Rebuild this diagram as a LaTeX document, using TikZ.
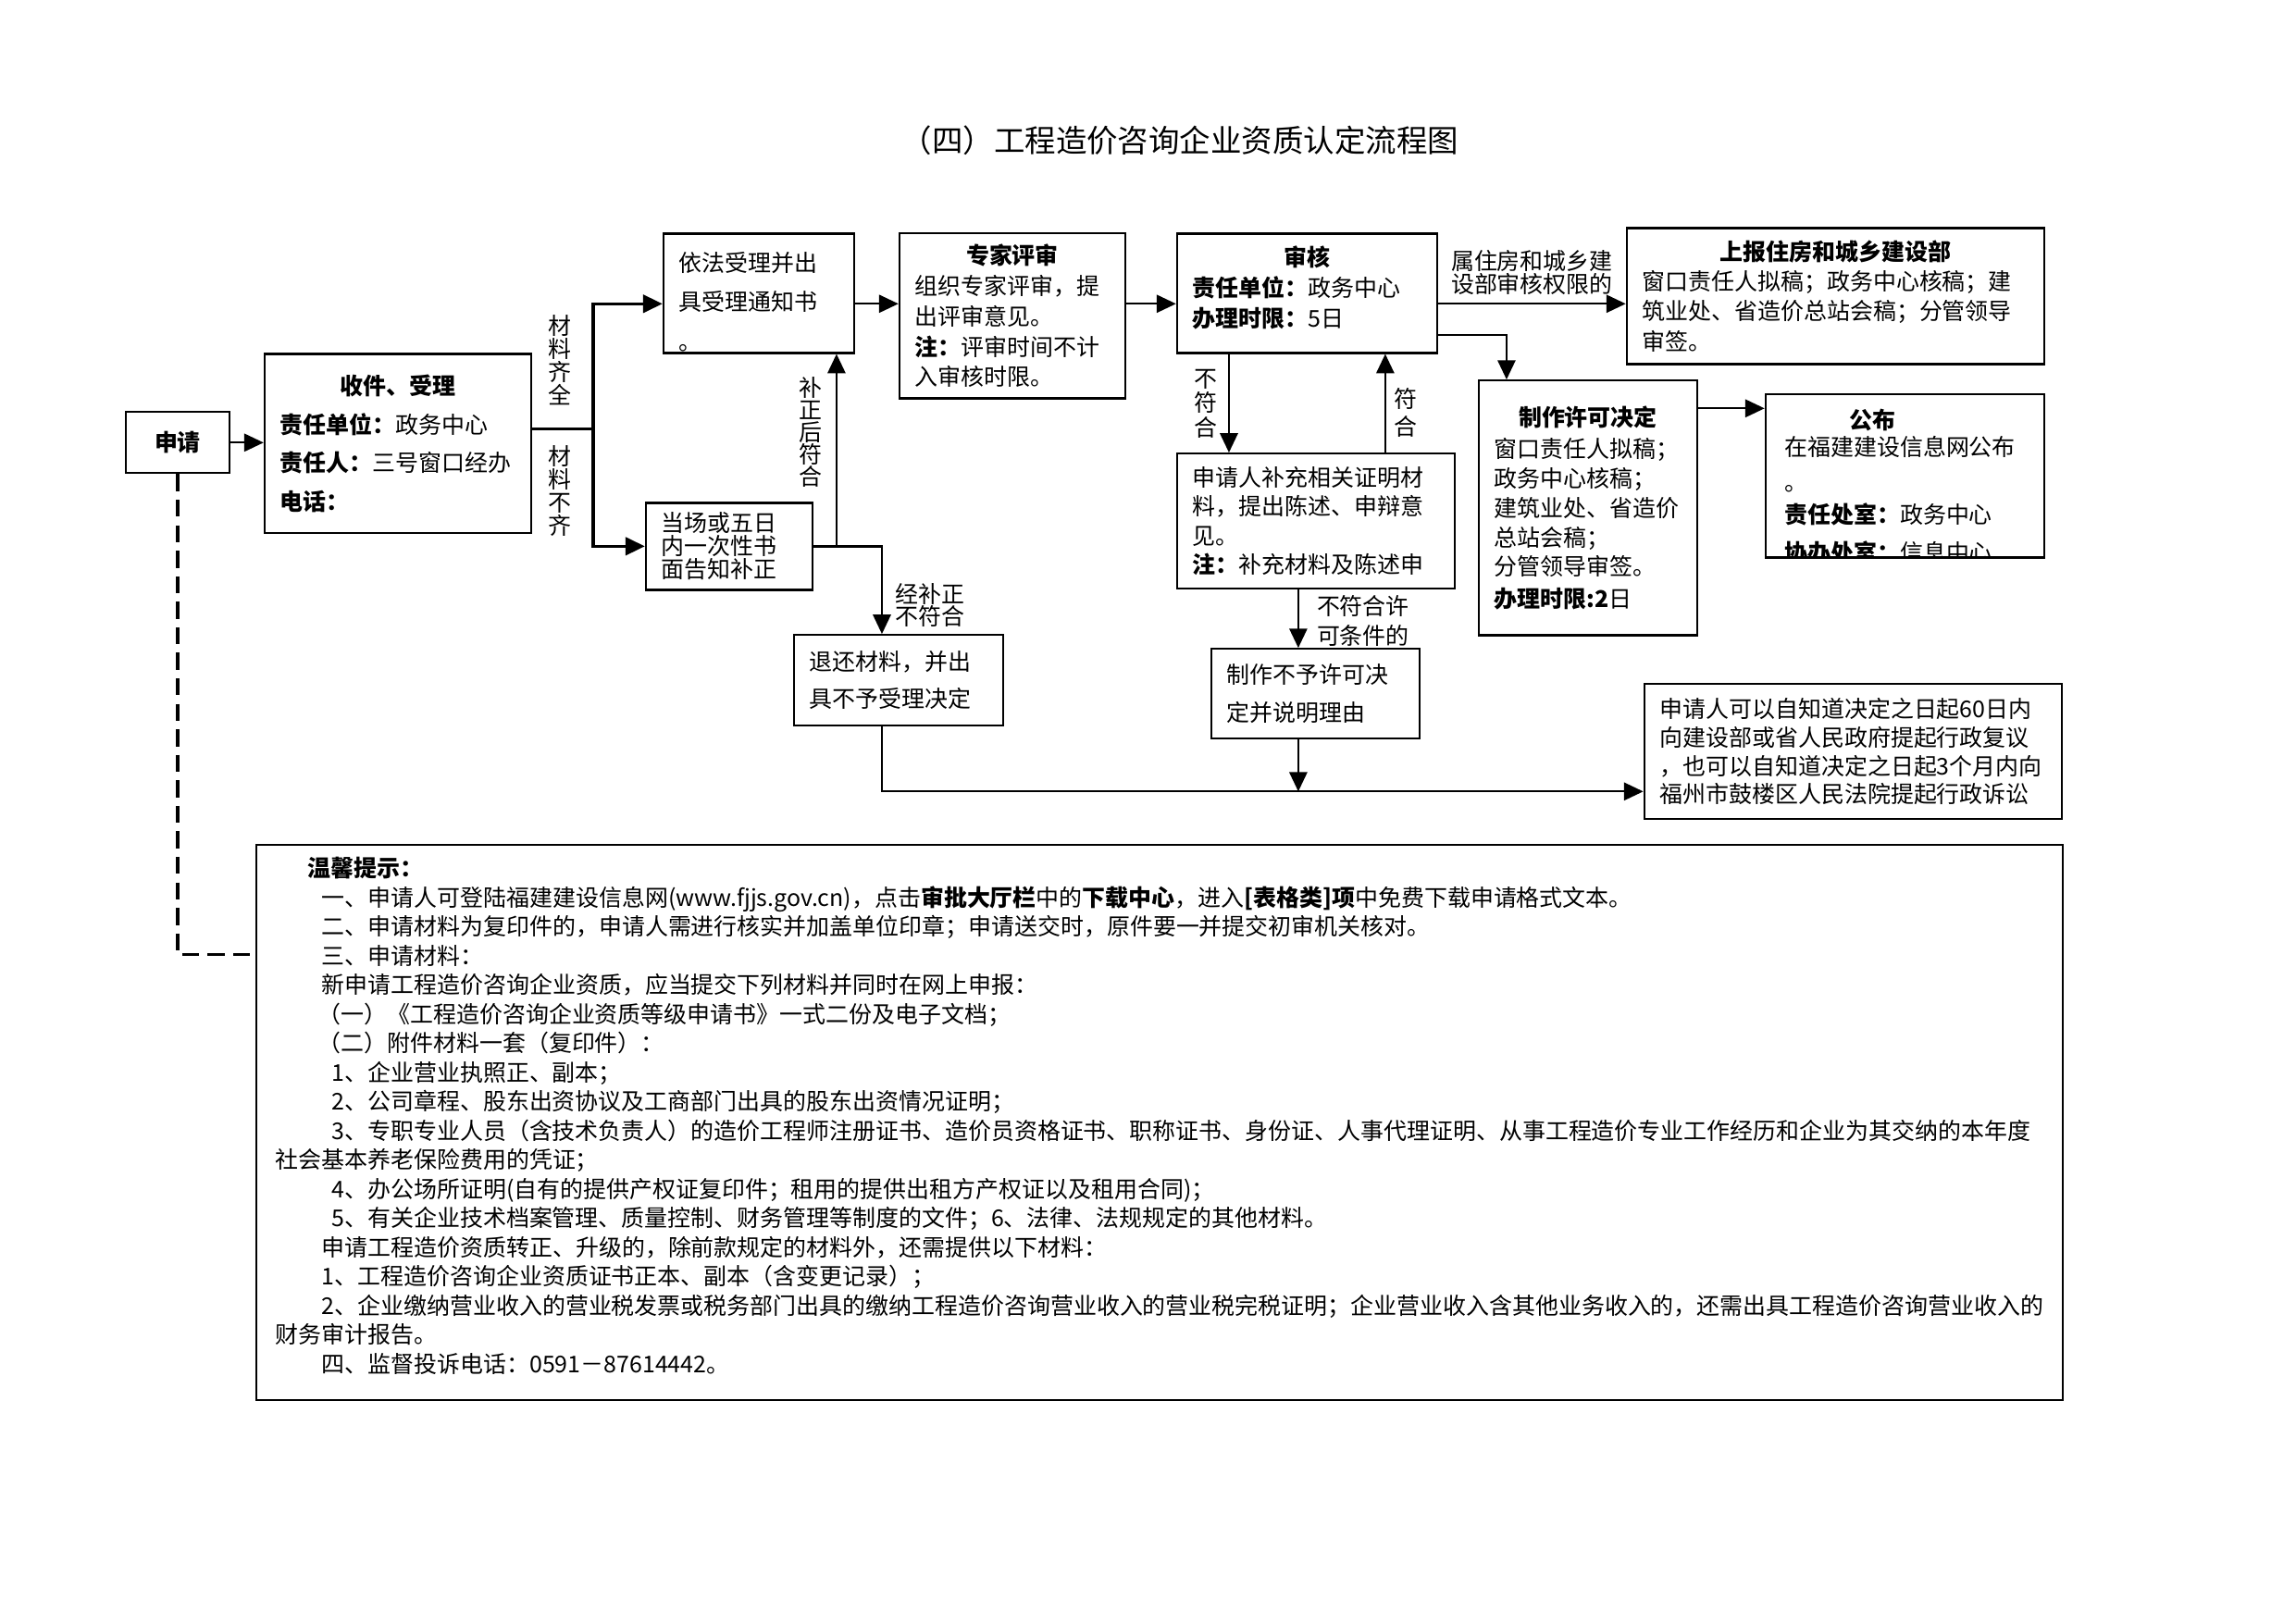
\documentclass[tikz,border=0pt]{standalone}
\usepackage{fontspec}
\setmainfont{Noto Sans CJK SC}
\usetikzlibrary{arrows.meta}
\newcommand{\fsz}[1]{\fontsize{8.5pt}{#1}\selectfont}

\begin{document}
\begin{tikzpicture}[
  font=\fsz{10.7pt},
  bx/.style  ={draw, line width=0.8pt, inner sep=0pt, align=left},
  ar/.style  ={-{Triangle[length=2.5mm,width=2.3mm]}, line width=0.8pt},
  arb/.style ={ar, line width=1.2pt},
  dsh/.style ={line width=1.2pt, dash pattern=on 2.2mm off 1.1mm},
  vlbl/.style={align=center, inner sep=0pt},
  lbl/.style ={align=left, inner sep=0pt},
]
\useasboundingbox (0,0) rectangle (29.7,21.0);

% ---- title ----
\node[inner sep=0pt, font=\fontsize{11.4pt}{12pt}\selectfont] (title) at (15.262,19.188)
  {（四）工程造价咨询企业资质认定流程图};

% ---- left part ----
\node[bx, align=center, minimum width=1.341cm, minimum height=0.790cm] (apply) at (2.298,15.274)
  {\textbf{申请}};
\node[bx, minimum width=3.447cm, minimum height=2.322cm, text width=3.05cm, font=\fsz{14.2pt}]
  (recv) at (5.147,15.262)
  {\hfill\textbf{收件、受理}\hfill\null\\ \textbf{责任单位：}政务中心\\ \textbf{责任人：}三号窗口经办\\ \textbf{电话：}};
\node[bx, minimum width=2.466cm, minimum height=1.544cm, text width=2.07cm, text height=13.5pt,
  font=\fsz{14.5pt}] (acc) at (9.816,17.207) {依法受理并出\\ 具受理通知书\\ 。};
\node[bx, minimum width=2.155cm, minimum height=1.125cm, text width=1.75cm, font=\fsz{8.6pt}]
  (fix) at (9.433,13.933) {当场或五日\\ 内一次性书\\ 面告知补正};
\node[bx, minimum width=2.705cm, minimum height=1.173cm, text width=2.30cm, font=\fsz{13.6pt}]
  (ret) at (11.623,12.198) {退还材料，并出\\ 具不予受理决定};

% ---- review row ----
\node[bx, minimum width=2.921cm, minimum height=2.131cm, text width=2.52cm, font=\fsz{11.2pt}]
  (exp) at (13.096,16.914)
  {\hfill\textbf{专家评审}\hfill\null\\ 组织专家评审，提\\ 出评审意见。\\ \textbf{注：}评审时间不计\\ 入审核时限。};
\node[bx, minimum width=3.364cm, minimum height=1.544cm, text width=2.96cm, text height=3.5pt,
  font=\fsz{11.2pt}] (rev) at (16.908,17.207)
  {\hfill\textbf{审核}\hfill\null\\ \textbf{责任单位：}政务中心\\ \textbf{办理时限：}5日};
\node[bx, minimum width=5.399cm, minimum height=1.760cm, text width=5.0cm, font=\fsz{11pt}]
  (rep) at (23.743,17.171)
  {\hfill\textbf{上报住房和城乡建设部}\hfill\null\\ 窗口责任人拟稿；政务中心核稿；建\\ 筑业处、省造价总站会稿；分管领导\\ 审签。};
\node[bx, minimum width=3.591cm, minimum height=1.748cm, text width=3.19cm, font=\fsz{10.7pt}]
  (sup) at (17.022,14.257)
  {申请人补充相关证明材\\ 料，提出陈述、申辩意\\ 见。\\ \textbf{注：}补充材料及陈述申};
\node[bx, minimum width=2.693cm, minimum height=1.161cm, text width=2.29cm, font=\fsz{14pt}]
  (rej) at (17.016,12.024) {制作不予许可决\\ 定并说明理由};
\node[bx, minimum width=2.825cm, minimum height=3.292cm, text width=2.43cm, font=\fsz{10.8pt}]
  (mkp) at (20.541,14.430)
  {\hfill\textbf{制作许可决定}\hfill\null\\[1pt] 窗口责任人拟稿；\\ 政务中心核稿；\\ 建筑业处、省造价\\ 总站会稿；\\ 分管领导审签。\\[1pt] \textbf{办理时限:2}日};
\node[bx, minimum width=3.603cm, minimum height=2.107cm,
  path picture={\node[lbl, draw=none, minimum width=0pt, minimum height=0pt,
      anchor=north west, font=\fsz{10pt}] (pubtxt)
    at ([xshift=0.23cm, yshift=-0.17cm]path picture bounding box.north west)
    {\hspace*{2.8em}\textbf{公布}\\ 在福建建设信息网公布\\[3pt] 。\\[2pt] \textbf{责任处室：}政务中心\\[4pt] \textbf{协办处室：}信息中心};}]
  (pub) at (24.641,14.843) {};
\node[bx, minimum width=5.399cm, minimum height=1.748cm, text width=5.0cm, font=\fsz{10.4pt}]
  (appeal) at (23.970,11.276)
  {申请人可以自知道决定之日起60日内\\ 向建设部或省人民政府提起行政复议\\ ，也可以自知道决定之日起3个月内向\\ 福州市鼓楼区人民法院提起行政诉讼};

% ---- tips ----
\node[bx, minimum width=23.366cm, minimum height=7.182cm] (tips) at (14.999,6.476) {};
\node[lbl, anchor=north west, text width=22.9cm, font=\fsz{10.72pt}] (tiptxt) at (3.555,9.914)
  {\hspace*{0.42cm}\textbf{温馨提示：}\\
   \hspace*{0.6cm}一、申请人可登陆福建建设信息网(www.fjjs.gov.cn)，点击\textbf{审批大厅栏}中的\textbf{下载中心}，进入\textbf{[表格类]项}中免费下载申请格式文本。\\
   \hspace*{0.6cm}二、申请材料为复印件的，申请人需进行核实并加盖单位印章；申请送交时，原件要一并提交初审机关核对。\\
   \hspace*{0.6cm}三、申请材料：\\
   \hspace*{0.6cm}新申请工程造价咨询企业资质，应当提交下列材料并同时在网上申报：\\
   \hspace*{0.55cm}（一）《工程造价咨询企业资质等级申请书》一式二份及电子文档；\\
   \hspace*{0.55cm}（二）附件材料一套（复印件）：\\
   \hspace*{0.73cm}1、企业营业执照正、副本；\\
   \hspace*{0.73cm}2、公司章程、股东出资协议及工商部门出具的股东出资情况证明；\\
   \hspace*{0.73cm}3、专职专业人员（含技术负责人）的造价工程师注册证书、造价员资格证书、职称证书、身份证、人事代理证明、从事工程造价专业工作经历和企业为其交纳的本年度\\
   社会基本养老保险费用的凭证；\\
   \hspace*{0.73cm}4、办公场所证明(自有的提供产权证复印件；租用的提供出租方产权证以及租用合同)；\\
   \hspace*{0.73cm}5、有关企业技术档案管理、质量控制、财务管理等制度的文件；6、法律、法规规定的其他材料。\\
   \hspace*{0.6cm}申请工程造价资质转正、升级的，除前款规定的材料外，还需提供以下材料：\\
   \hspace*{0.6cm}1、工程造价咨询企业资质证书正本、副本（含变更记录）；\\
   \hspace*{0.6cm}2、企业缴纳营业收入的营业税发票或税务部门出具的缴纳工程造价咨询营业收入的营业税完税证明；企业营业收入含其他业务收入的，还需出具工程造价咨询营业收入的\\
   财务审计报告。\\
   \hspace*{0.6cm}四、监督投诉电话：0591－87614442。};

% ---- edge labels ----
\node[vlbl, font=\fsz{8.5pt}] (l1) at (7.242,16.339) {材\\料\\齐\\全};
\node[vlbl, font=\fsz{8.5pt}] (l2) at (7.242,14.652) {材\\料\\不\\齐};
\node[vlbl, font=\fsz{8.2pt}] (l3) at (10.486,15.406) {补\\正\\后\\符\\合};
\node[lbl, font=\fsz{8.2pt}] (l4) at (12.030,13.167) {经补正\\不符合};
\node[vlbl, font=\fsz{9pt}] (l6) at (15.597,15.777) {不\\符\\合};
\node[vlbl, font=\fsz{10pt}] (l7) at (18.183,15.663) {符\\合};
\node[lbl, font=\fsz{11pt}] (l8) at (17.632,12.964) {不符合许\\可条件的};

% ---- helper coordinates ----
\coordinate (row) at (0,17.070);
\coordinate (br)  at (7.673,15.454);
\coordinate (upx) at (10.821,0);
\coordinate (bl)  at (11.408,10.761);
\coordinate (kx)  at (19.488,16.669);
\coordinate (dnx) at (15.897,0);
\coordinate (upy) at (17.919,0);
\coordinate (mid) at (16.794,0);
\coordinate (pr)  at (0,15.717);
\coordinate (dl)  at (2.298,8.654);

% ---- edges ----
\draw[ar]  (apply.east) -- (apply.east -| recv.west);
\draw[arb] (recv.east |- br) -- (br) |- (acc.west |- row);
\draw[arb] (br) |- (fix.west);
\draw[ar]  (acc.east |- row) -- (exp.west |- row);
\draw[ar]  (exp.east |- row) -- (rev.west |- row);
\draw[ar]  (rev.east |- row) -- node[lbl, align=center, above=3pt, font=\fsz{8.5pt}] (l5)
  {属住房和城乡建\\设部审核权限的} (rep.west |- row);
\draw[ar]  (rev.east |- kx) -| (kx |- mkp.north);
\draw[ar]  (dnx |- rev.south) -- (dnx |- sup.north);
\draw[ar]  (upy |- sup.north) -- (upy |- rev.south);
\draw[ar]  (mid |- sup.south) -- (mid |- rej.north);
\draw[ar]  (mid |- rej.south) -- (mid |- bl);
\draw[ar]  (fix.east) -| (bl |- ret.north);
\draw[ar]  (fix.east -| upx) -- (upx |- acc.south);
\draw[ar]  (bl |- ret.south) -- (bl) -- (appeal.west |- bl);
\draw[ar]  (mkp.east |- pr) -- (pub.west |- pr);
\draw[dsh] (apply.south) -- (dl) -- (tips.west |- dl);
\end{tikzpicture}
\end{document}
